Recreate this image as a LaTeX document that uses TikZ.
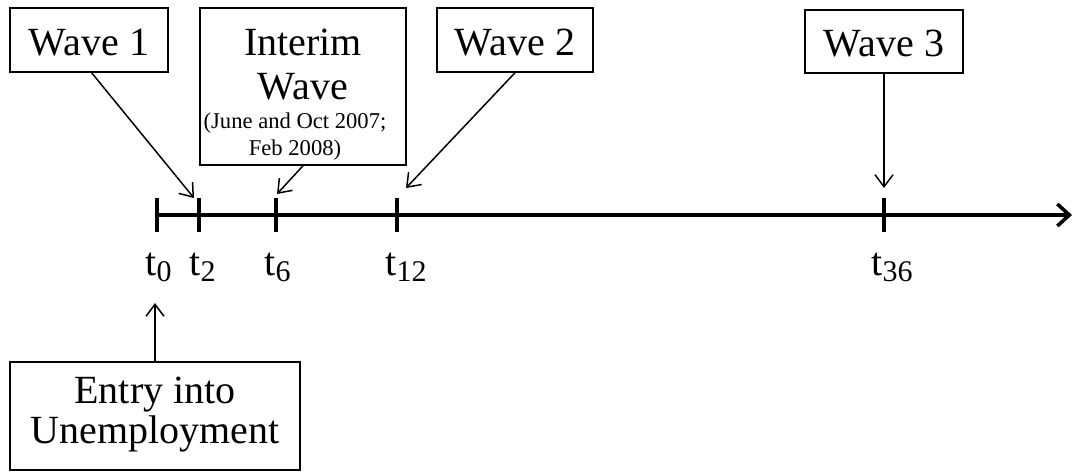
\documentclass[tikz,border=0pt]{standalone}
\usepackage{fontspec}
\setmainfont{Liberation Serif}
\usetikzlibrary{arrows.meta}
\newcommand{\tsub}[1]{t\raisebox{-3.4pt}{\fontsize{15}{15}\selectfont #1}}
\tikzset{
  box/.style={draw, line width=0.75pt, inner sep=0pt, minimum width=#1},
  big/.style={font=\fontsize{20}{24}\selectfont, inner sep=0pt, anchor=base},
  small/.style={font=\fontsize{11.3}{13}\selectfont, inner sep=0pt, anchor=base},
  conn/.style={line width=0.75pt, -{Straight Barb[length=6pt,width=9pt]}},
  tick/.style={line width=1.8pt},
  tlab/.style={font=\fontsize{20}{24}\selectfont, inner sep=0pt, anchor=base west},
}
\begin{document}
\begin{tikzpicture}[x=0.5pt,y=-0.5pt]
\useasboundingbox (0,0) rectangle (1074,472);
% boxes
\node[box=79pt, minimum height=32pt] (w1) at (89,40) {};
\node[big] (w1t) at (89,55) {Wave 1};
\node[box=103pt, minimum height=78.5pt] (iw) at (303,86.5) {};
\node[big] (iwa) at (303,55) {Interim};
\node[big] (iwb) at (303,99) {Wave};
\node[small] (iwc) at (295,128) {(June and Oct 2007;};
\node[small] (iwd) at (295,155) {Feb 2008)};
\node[box=78pt, minimum height=32pt] (w2) at (515,40) {};
\node[big] (w2t) at (515,55) {Wave 2};
\node[box=79pt, minimum height=31.5pt] (w3) at (884,41.5) {};
\node[big] (w3t) at (884,56) {Wave 3};
\node[box=145pt, minimum height=54pt] (en) at (155,416) {};
\node[big] (ena) at (155,403) {Entry into};
\node[big] (enb) at (155,443) {Unemployment};
% timeline
\coordinate (s) at (157,215);
\coordinate (e) at (1072,215);
\draw[line width=1.8pt, -{Straight Barb[length=6pt,width=11pt,line width=1.8pt]}] (s) -- (e);
\foreach \n/\x in {t0/157,t2/199,t6/276,t12/397,t36/884}{
  \coordinate (\n) at (\x,215);
  \draw[tick] (\x,198) -- (\x,232);
}
\node[tlab] (l0) at (145,275) {\tsub{0}};
\node[tlab] (l2) at (189,275) {\tsub{2}};
\node[tlab] (l6) at (264,275) {\tsub{6}};
\node[tlab] (l12) at (385,275) {\tsub{12}};
\node[tlab] (l36) at (871,275) {\tsub{36}};
% arrow targets
\coordinate (a1) at (194,198);
\coordinate (a2) at (277,194);
\coordinate (a3) at (406,188);
\coordinate (a4) at (884,188);
\coordinate (a0) at (155,303);
\draw[conn] (91,72) -- (a1);
\draw[conn] (iw.south) -- (a2);
\draw[conn] (w2.south) -- (a3);
\draw[conn] (w3.south) -- (a4);
\draw[conn] (en.north) -- (a0);
\end{tikzpicture}
\end{document}
